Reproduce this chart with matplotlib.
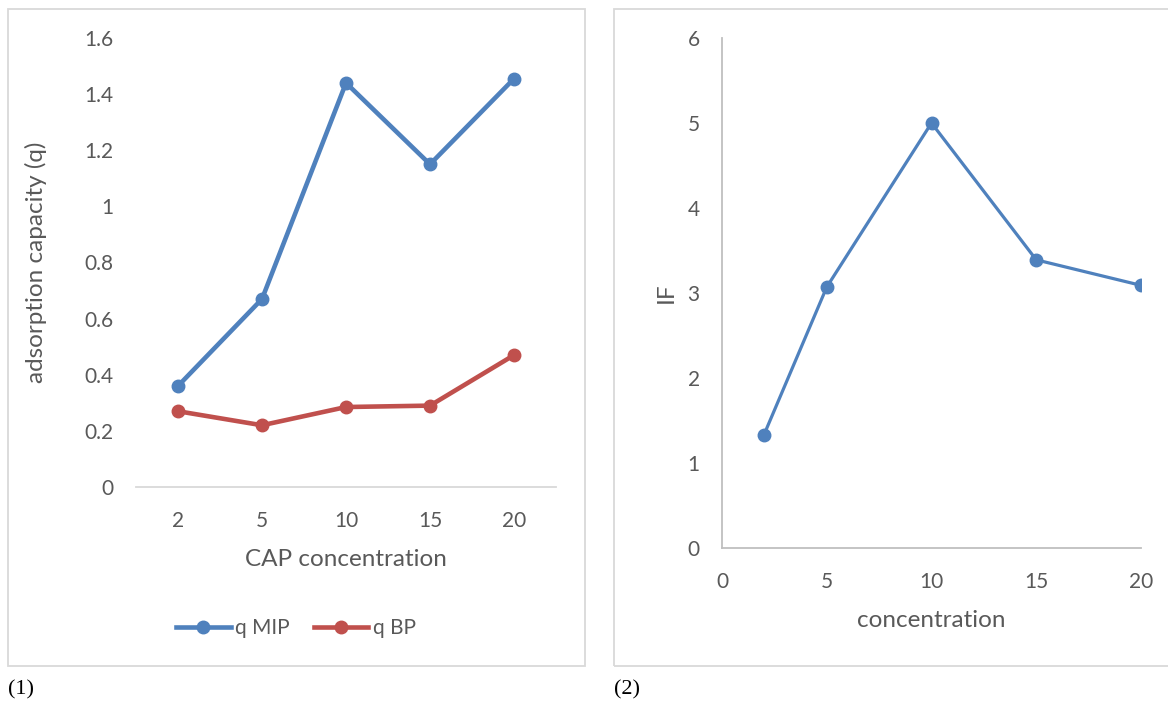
import matplotlib.pyplot as plt
from matplotlib.patches import Rectangle

plt.rcParams["font.family"] = ["Lato", "DejaVu Sans"]

# panel (1): adsorption capacity
cap_labels = ["2", "5", "10", "15", "20"]
q_mip = [0.36, 0.67, 1.44, 1.15, 1.455]
q_bp = [0.27, 0.22, 0.285, 0.29, 0.47]

# panel (2): imprinting factor
conc = [2, 5, 10, 15, 20]
imp_factor = [1.33, 3.07, 5.0, 3.39, 3.09]

W, H = 1168, 701
blue = "#4f81bd"
red = "#c0504d"
txt = "#595959"
grid_c = "#d9d9d9"


def box(x0, y0, x1, y1):
    # pixel box (top-left origin) -> figure fraction [l, b, w, h]
    return [x0 / W, 1 - y1 / H, (x1 - x0) / W, (y1 - y0) / H]


fig = plt.figure(figsize=(W / 100, H / 100), dpi=100)

# panel borders
for x0, x1 in [(8, 585), (614, 1175)]:
    l, b, w, h = box(x0, 9, x1, 666)
    fig.patches.append(Rectangle((l, b), w, h, transform=fig.transFigure,
                                 fill=False, edgecolor=grid_c, lw=1.3))

# ---- left chart
ax1 = fig.add_axes(box(136, 38, 556, 487))
xi = range(len(cap_labels))
ax1.plot(xi, q_mip, color=blue, lw=3.3, marker="o", ms=9, label="q MIP")
ax1.plot(xi, q_bp, color=red, lw=3.3, marker="o", ms=9, label="q BP")
ax1.set_xlim(-0.5, 4.5)
ax1.set_ylim(0, 1.6)
ax1.set_xticks(list(xi))
ax1.set_xticklabels(cap_labels)
ax1.set_yticks([0, 0.2, 0.4, 0.6, 0.8, 1.0, 1.2, 1.4, 1.6])
ax1.set_yticklabels(["0", "0.2", "0.4", "0.6", "0.8", "1", "1.2", "1.4", "1.6"])
for s in ["left", "top", "right"]:
    ax1.spines[s].set_visible(False)
ax1.spines["bottom"].set_color(grid_c)
ax1.spines["bottom"].set_linewidth(1.3)
ax1.tick_params(length=0, labelsize=15, colors=txt)
ax1.tick_params(axis="y", pad=16)
ax1.tick_params(axis="x", pad=17)
ax1.set_xlabel("CAP concentration", fontsize=17.5, color=txt, labelpad=13)
ax1.set_ylabel("adsorption capacity (q)", fontsize=17.5, color=txt, labelpad=27)
ax1.legend(loc="center", bbox_to_anchor=(296 / W, 1 - 628 / H),
           bbox_transform=fig.transFigure, ncol=2, frameon=False,
           fontsize=15, labelcolor=txt, handlelength=2.6, handletextpad=0.2,
           columnspacing=1.2)

# ---- right chart
ax2 = fig.add_axes(box(722, 38, 1141, 548))
ax2.plot(conc, imp_factor, color=blue, lw=2.3, marker="o", ms=9)
ax2.set_xlim(0, 20)
ax2.set_ylim(0, 6)
ax2.set_xticks([0, 5, 10, 15, 20])
ax2.set_yticks(range(7))
for s in ["top", "right"]:
    ax2.spines[s].set_visible(False)
for s in ["left", "bottom"]:
    ax2.spines[s].set_color("#bfbfbf")
    ax2.spines[s].set_linewidth(1.3)
ax2.tick_params(length=0, labelsize=15, colors=txt)
ax2.tick_params(axis="y", pad=16)
ax2.tick_params(axis="x", pad=17)
ax2.set_xlabel("concentration", fontsize=17.5, color=txt, labelpad=13)
ax2.set_ylabel("IF", fontsize=17.5, color=txt, labelpad=8)

# captions
fig.text(8 / W, 1 - 690 / H, "(1)", family="Liberation Serif", fontsize=16,
         va="center", ha="left")
fig.text(614 / W, 1 - 690 / H, "(2)", family="Liberation Serif", fontsize=16,
         va="center", ha="left")

fig.savefig("out.png", dpi=100)
